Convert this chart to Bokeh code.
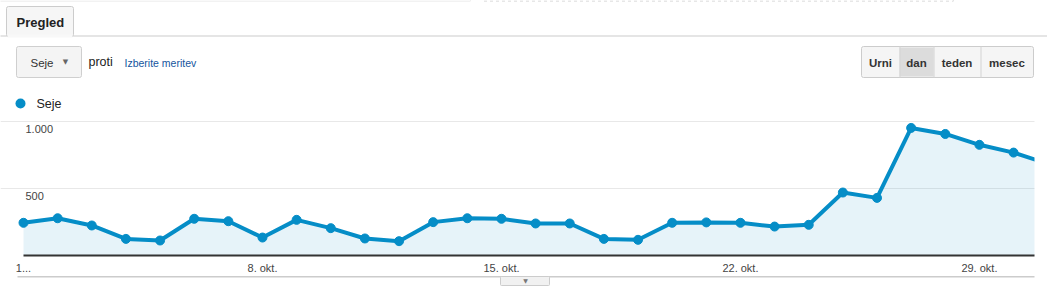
from bokeh.plotting import figure
from bokeh.models import (Range1d, FixedTicker, Grid, Label, BoxAnnotation)
from bokeh.embed import file_html
from bokeh.resources import INLINE

# ---- data ----
days = list(range(1, 32))  # day of October
sessions = [244, 278, 224, 124, 112, 274, 256, 134, 266, 204,
            127, 107, 249, 278, 274, 239, 239, 124, 117, 244,
            247, 244, 216, 229, 470, 430, 952, 907, 826, 768, 685]
x_ticks = [1, 8, 15, 22, 29]
x_tick_labels = ["1...", "8. okt.", "15. okt.", "22. okt.", "29. okt."]
y_ticks = [500, 1000]
y_tick_labels = ["500", "1.000"]
series_name = "Seje"

BLUE = "#058dc7"
FONT = "Liberation Sans"

# frame covers the whole canvas; ranges chosen so that day 1 sits at x=23px,
# 0 sessions at y=255px and 1000 sessions at y=121px
p = figure(width=1047, height=295, output_backend="svg", toolbar_location=None,
           x_range=Range1d(0.326, 30.994), y_range=Range1d(-298.5, 1903),
           x_axis_location=None, y_axis_location=None,
           min_border=0)
p.outline_line_color = None
p.background_fill_color = "white"
p.border_fill_color = "white"
p.grid.visible = False

# horizontal grid
p.add_layout(Grid(dimension=1, ticker=FixedTicker(ticks=y_ticks),
                  grid_line_color="#e8e8e8", grid_line_width=1,
                  bounds=(days[0], days[-1])))

# series
p.varea(x=days, y1=0, y2=sessions, fill_color=BLUE, fill_alpha=0.1)
p.line(days, sessions, line_color=BLUE, line_width=4)
p.scatter(days, sessions, size=9, fill_color=BLUE, line_color=BLUE)


def box(l, t, r, b, fill=None, line=None, dash="solid", radius=0, lw=1):
    p.add_layout(BoxAnnotation(
        left=l, right=r, top=t, bottom=b,
        left_units="canvas", right_units="canvas", top_units="canvas", bottom_units="canvas",
        fill_color=fill if fill else "white", fill_alpha=1 if fill else 0,
        line_color=line if line else "white", line_alpha=1 if line else 0,
        line_width=lw, line_dash=dash, border_radius=radius))


def label(x, y, text, size, color="#333333", bold=False, align="left", font=FONT):
    p.add_layout(Label(x=x, y=y, x_units="canvas", y_units="canvas", text=text,
                       text_font=font, text_font_size=f"{size}px", text_color=color,
                       text_font_style="bold" if bold else "normal",
                       text_align=align, text_baseline="middle"))


# the chart area ends at x=1034: blank the right margin
box(1034, 100, 1047, 258, fill="white")

# baseline (x axis line)
box(23, 254, 1034, 256, fill="#333333")

# y tick labels inside plot
for yt, yl in zip(y_ticks, y_tick_labels):
    p.add_layout(Label(x=25, y=yt, x_units="canvas", y_units="data", text=yl,
                       text_font=FONT, text_font_size="11px", text_color="#444444",
                       text_baseline="top", y_offset=-3))

# x tick labels
for xt, xl in zip(x_ticks, x_tick_labels):
    p.add_layout(Label(x=xt, y=267, x_units="data", y_units="canvas", text=xl,
                       text_font=FONT, text_font_size="11px", text_color="#444444",
                       text_align="center", text_baseline="middle"))

# legend
box(15, 98, 25, 108, fill=BLUE, radius=5)
label(36, 103, series_name, 12.5, color="#222222")

# top rule
box(-2, -5, 470, 0.5, line="#e6e6e6")
box(483, -5, 953, 0.5, line="#d0d0d0", dash="3 3")

# tab
box(-2, 35, 1049, 36, fill="#cccccc")
box(6, 6, 73, 36, fill="#f6f6f6", line="#cccccc", radius=2)
box(7, 34, 72, 37, fill="#f8f8f8")
label(16, 22, "Pregled", 13, color="#222222", bold=True)

# dropdown
box(16, 46, 81, 77, fill="#f4f4f4", line="#cfcfcf", radius=2)
label(30, 62, series_name, 11.5, color="#333333")
label(65, 61, "\u25bc", 7, color="#666666", align="center", font="DejaVu Sans")
label(88, 61, "proti", 12.5, color="#222222")
label(124, 62, "Izberite meritev", 10.5, color="#15559e")

# granularity buttons
box(861, 46, 1033, 77, fill="#f5f5f5", line="#cccccc", radius=2)
box(899, 47, 933, 76, fill="#dcdcdc")
for xx in (899, 933, 980):
    box(xx, 46, xx + 1, 77, fill="#d4d4d4")
for cx, t in zip((880, 916, 956.5, 1006.5), ("Urni", "dan", "teden", "mesec")):
    label(cx, 62, t, 11.5, color="#333333", bold=True, align="center")

# bottom rule and handle
box(17, 275.5, 1034, 277, fill="#cccccc")
box(500, 276, 549, 285, fill="#f1f1f1", line="#cccccc", radius=1)
label(525, 280, "\u25bc", 6, color="#777777", align="center", font="DejaVu Sans")

open("out.html", "w").write(file_html(p, INLINE))
